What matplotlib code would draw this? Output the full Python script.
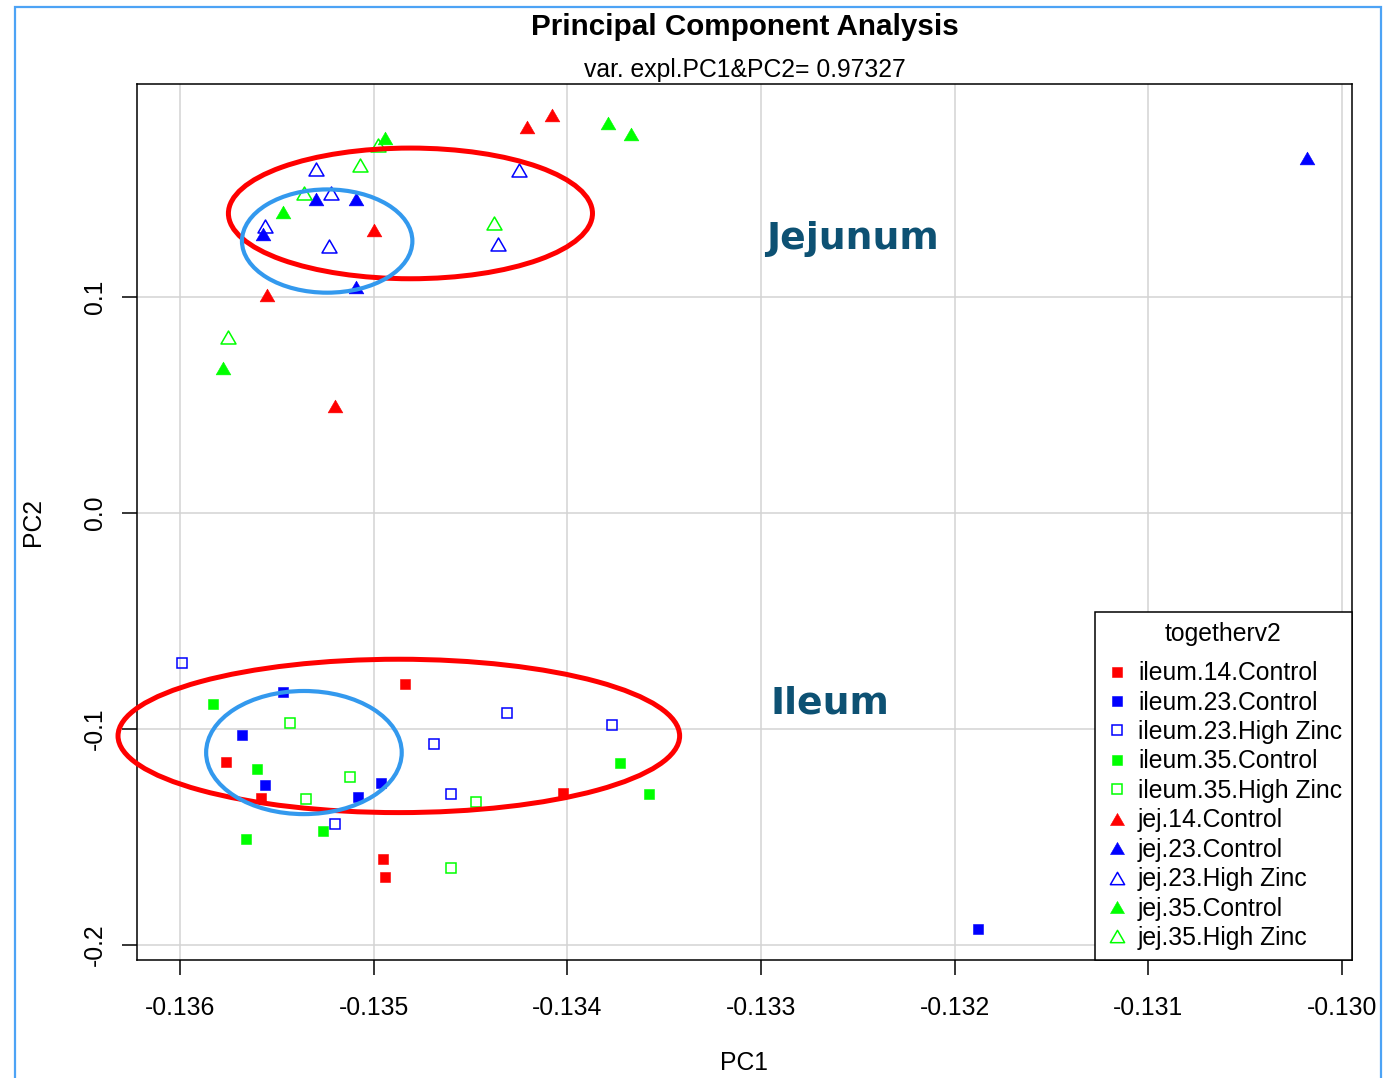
import matplotlib
matplotlib.use('Agg')
import matplotlib.pyplot as plt
from matplotlib.patches import Ellipse, Rectangle
from matplotlib.path import Path

plt.rcParams['font.family'] = ['Liberation Sans', 'DejaVu Sans']

# PC scores, one pair of lists per group
ileum14_ctrl_pc1 = [-0.13484, -0.13576, -0.13558, -0.13495, -0.13494, -0.13402]
ileum14_ctrl_pc2 = [-0.0792, -0.1153, -0.1319, -0.1602, -0.1685, -0.1296]
ileum23_ctrl_pc1 = [-0.13547, -0.13568, -0.13556, -0.13508, -0.13496, -0.13188]
ileum23_ctrl_pc2 = [-0.0829, -0.1028, -0.1259, -0.1315, -0.1250, -0.1926]
ileum23_zinc_pc1 = [-0.13599, -0.13431, -0.13377, -0.13469, -0.13460, -0.13520]
ileum23_zinc_pc2 = [-0.0694, -0.0926, -0.0981, -0.1069, -0.1301, -0.1440]
ileum35_ctrl_pc1 = [-0.13583, -0.13560, -0.13566, -0.13526, -0.13373, -0.13358]
ileum35_ctrl_pc2 = [-0.0884, -0.1185, -0.1508, -0.1472, -0.1157, -0.1301]
ileum35_zinc_pc1 = [-0.13543, -0.13512, -0.13535, -0.13447, -0.13460]
ileum35_zinc_pc2 = [-0.0972, -0.1222, -0.1325, -0.1338, -0.1644]
jej14_ctrl_pc1 = [-0.13421, -0.13408, -0.13500, -0.13555, -0.13520]
jej14_ctrl_pc2 = [0.1787, 0.1843, 0.1310, 0.1009, 0.0495]
jej23_ctrl_pc1 = [-0.13018, -0.13557, -0.13530, -0.13509, -0.13509]
jej23_ctrl_pc2 = [0.1644, 0.1292, 0.1454, 0.1454, 0.1046]
jej23_zinc_pc1 = [-0.13530, -0.13522, -0.13556, -0.13523, -0.13425, -0.13436]
jej23_zinc_pc2 = [0.1593, 0.1481, 0.1329, 0.1236, 0.1588, 0.1245]
jej35_ctrl_pc1 = [-0.13494, -0.13379, -0.13367, -0.13547, -0.13578]
jej35_ctrl_pc2 = [0.1736, 0.1806, 0.1755, 0.1394, 0.0671]
jej35_zinc_pc1 = [-0.13498, -0.13507, -0.13536, -0.13438, -0.13575]
jej35_zinc_pc2 = [0.1704, 0.1611, 0.1481, 0.1343, 0.0815]

group_names = ['ileum.14.Control', 'ileum.23.Control', 'ileum.23.High Zinc',
               'ileum.35.Control', 'ileum.35.High Zinc', 'jej.14.Control',
               'jej.23.Control', 'jej.23.High Zinc', 'jej.35.Control',
               'jej.35.High Zinc']

x_ticks = [-0.136, -0.135, -0.134, -0.133, -0.132, -0.131, -0.130]
x_tick_labels = ['-0.136', '-0.135', '-0.134', '-0.133', '-0.132', '-0.131', '-0.130']
y_ticks = [0.1, 0.0, -0.1, -0.2]
y_tick_labels = ['0.1', '0.0', '-0.1', '-0.2']

# hand drawn highlight ellipses: (centre pc1, centre pc2, width, height)
jej_outer = (-0.13481, 0.1387, 0.00188, 0.0605)
jej_inner = (-0.13524, 0.1259, 0.00088, 0.0478)
ileum_outer = (-0.13487, -0.1032, 0.00290, 0.0710)
ileum_inner = (-0.13536, -0.1109, 0.00101, 0.0570)

tri = Path([(-1, -0.866), (1, -0.866), (0, 0.866), (-1, -0.866)], closed=True)
RED, BLUE, GREEN = '#ff0000', '#0000ff', '#00ff00'

fig = plt.figure(figsize=(13.83, 10.78), dpi=100)
ax = fig.add_axes([137 / 1383, 1 - 960 / 1078, 1215 / 1383, 876 / 1078])

series = [
    (ileum14_ctrl_pc1, ileum14_ctrl_pc2, RED, 's', True),
    (ileum23_ctrl_pc1, ileum23_ctrl_pc2, BLUE, 's', True),
    (ileum23_zinc_pc1, ileum23_zinc_pc2, BLUE, 's', False),
    (ileum35_ctrl_pc1, ileum35_ctrl_pc2, GREEN, 's', True),
    (ileum35_zinc_pc1, ileum35_zinc_pc2, GREEN, 's', False),
    (jej14_ctrl_pc1, jej14_ctrl_pc2, RED, tri, True),
    (jej23_ctrl_pc1, jej23_ctrl_pc2, BLUE, tri, True),
    (jej23_zinc_pc1, jej23_zinc_pc2, BLUE, tri, False),
    (jej35_ctrl_pc1, jej35_ctrl_pc2, GREEN, tri, True),
    (jej35_zinc_pc1, jej35_zinc_pc2, GREEN, tri, False),
]

handles = []
for (xs, ys, col, mk, filled), name in zip(series, group_names):
    if mk == 's':
        ms = 7.4 if filled else 7.7
    else:
        ms = 10.6 if filled else 10.8
    ln, = ax.plot(xs, ys, ls='none', marker=mk, ms=ms,
                  mfc=col if filled else 'none', mec=col,
                  mew=0.4 if filled else 1.1, label=name, zorder=3)
    handles.append(ln)

for (cx, cy, w, h), col, lw in [(jej_outer, RED, 3.6), (jej_inner, '#3399ee', 3.0),
                               (ileum_outer, RED, 3.6), (ileum_inner, '#3399ee', 3.0)]:
    ax.add_patch(Ellipse((cx, cy), w, h, fill=False, ec=col, lw=lw, zorder=4,
                         clip_on=False))

ax.set_xlim(-0.136222, -0.129948)
ax.set_ylim(-0.20694, 0.19861)
ax.set_xticks(x_ticks)
ax.set_xticklabels(x_tick_labels)
ax.set_yticks(y_ticks)
ax.set_yticklabels(y_tick_labels, rotation=90, va='center')
ax.tick_params(direction='out', length=10.8, width=1.1, labelsize=17.8, color='black')
ax.tick_params(axis='x', pad=15)
ax.tick_params(axis='y', pad=11)
ax.grid(True, color='#d3d3d3', lw=1.1, zorder=0)
ax.set_axisbelow(True)
for sp in ax.spines.values():
    sp.set_linewidth(1.1)

ax.set_xlabel('PC1', fontsize=17.8, va='center')
ax.xaxis.set_label_coords(0.5, (960 - 1063) / 876)
ax.set_ylabel('PC2', fontsize=17.8, va='center', ha='center')
ax.yaxis.set_label_coords((33 - 137) / 1215, 0.5)

ax.text(0.5, 1 + (84 - 35) / 876, 'Principal Component Analysis', transform=ax.transAxes,
        ha='center', va='baseline', fontsize=21.3, fontweight='bold')
ax.text(0.5, 1 + (84 - 77) / 876, 'var. expl.PC1&PC2= 0.97327', transform=ax.transAxes,
        ha='center', va='baseline', fontsize=17.8)

ax.text(-0.132975, 0.1222, 'Jejunum', fontsize=27.2, fontweight='bold',
        color='#0d5173', family='DejaVu Sans', va='baseline', zorder=5)
ax.text(-0.132950, -0.0926, 'Ileum', fontsize=27.2, fontweight='bold',
        color='#0d5173', family='DejaVu Sans', va='baseline', zorder=5)

leg = ax.legend(handles=handles, title='togetherv2', loc='lower right',
                bbox_to_anchor=(1, 0), borderaxespad=0, fontsize=17.8,
                title_fontsize=17.8, fancybox=False, framealpha=1,
                edgecolor='black', borderpad=0.4, handlelength=1.0,
                handletextpad=0.35, labelspacing=0.22, markerscale=0.95)
leg.get_frame().set_linewidth(1.1)
leg.set_zorder(6)
leg._legend_box.sep = 11

fig.add_artist(Rectangle((15 / 1383, -0.05), 1366 / 1383, 1.05 - 7 / 1078,
                         transform=fig.transFigure, fill=False,
                         ec='#4da3f5', lw=1.6))

fig.savefig('out.png', dpi=100)
